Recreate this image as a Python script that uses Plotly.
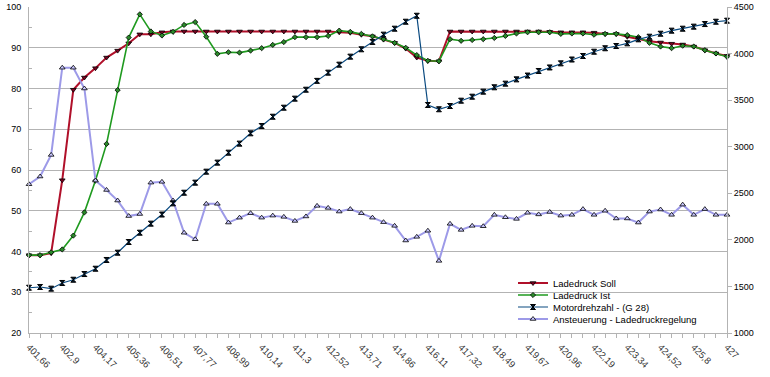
import plotly.graph_objects as go

tick_labels = ["401,66", "402,9", "404,17", "405,36", "406,51", "407,77", "408,99",
               "410,14", "411,3", "412,52", "413,71", "414,86", "416,11", "417,32",
               "418,49", "419,67", "420,96", "422,19", "423,34", "424,52", "425,8", "427"]

soll = [39.1, 39.1, 39.6, 57.5, 79.7, 82.7, 85.0, 87.6, 89.3, 91.1,
        93.3, 93.3, 93.8, 94.0, 94.0, 94.0, 94.0, 94.0, 94.0, 94.0,
        94.0, 94.0, 94.0, 94.0, 94.0, 94.0, 94.0, 94.0, 93.8, 93.7,
        93.2, 92.8, 92.0, 91.2, 89.8, 87.6, 86.8, 86.7, 94.0, 94.0,
        94.0, 94.0, 94.0, 94.0, 94.0, 94.0, 94.0, 93.9, 93.8, 93.8,
        93.8, 93.7, 93.4, 93.4, 92.7, 92.1, 91.6, 91.3, 91.0, 90.8,
        90.3, 89.4, 88.6, 88.0]

ist = [39.1, 39.1, 39.8, 40.5, 43.9, 49.6, 57.4, 66.4, 79.6, 92.5,
       98.2, 94.0, 93.0, 93.9, 95.6, 96.3, 92.7, 88.5, 88.9, 88.8,
       89.3, 89.9, 90.7, 91.4, 92.6, 92.6, 92.6, 92.9, 94.2, 93.9,
       93.4, 92.8, 92.1, 91.2, 90.0, 88.2, 86.8, 86.7, 92.1, 91.7,
       91.9, 92.1, 92.4, 92.9, 93.5, 93.8, 93.8, 93.8, 93.4, 93.5,
       93.5, 93.2, 93.4, 93.4, 93.1, 92.6, 91.2, 90.3, 89.9, 90.5,
       90.3, 89.4, 88.6, 87.8]

motor = [1486, 1494, 1476, 1537, 1572, 1633, 1690, 1784, 1862, 1977,
         2077, 2174, 2272, 2392, 2506, 2614, 2732, 2829, 2936, 3033,
         3144, 3222, 3322, 3419, 3516, 3612, 3707, 3795, 3881, 3967,
         4046, 4125, 4203, 4267, 4342, 4406, 3448, 3402, 3437, 3494,
         3537, 3591, 3638, 3677, 3723, 3764, 3813, 3851, 3895, 3936,
         3974, 4020, 4057, 4081, 4110, 4153, 4181, 4213, 4246, 4267,
         4289, 4317, 4342, 4353]

ansteuerung = [56.5, 58.4, 63.7, 85.1, 85.1, 80.0, 57.4, 55.1, 52.5, 48.7,
               49.2, 56.9, 57.1, 52.5, 44.6, 43.0, 51.7, 51.7, 47.1, 48.3,
               49.4, 48.3, 48.8, 48.5, 47.5, 48.6, 51.2, 50.7, 49.8, 50.4,
               49.4, 48.3, 47.2, 46.3, 42.7, 43.6, 45.1, 37.7, 46.8, 45.3,
               46.3, 46.2, 49.0, 48.4, 48.0, 49.5, 49.1, 49.7, 48.8, 49.0,
               50.4, 49.0, 50.0, 48.1, 48.1, 47.1, 49.8, 50.3, 49.0, 51.5,
               49.0, 50.4, 49.0, 49.0]

n = len(soll)
x = list(range(n))
label_step = 3
ticktext = []
for i in range(n):
    ticktext.append(tick_labels[i // label_step] if i % label_step == 0 else "")

FONT = "Liberation Sans"
fig = go.Figure()

fig.add_trace(go.Scatter(
    x=x, y=soll, name="Ladedruck Soll", mode="lines+markers", legend="legend",
    line=dict(color="#b0102a", width=2),
    marker=dict(symbol="triangle-down", size=5, color="#7e0021",
                line=dict(color="#000000", width=0.8)),
    cliponaxis=False))
fig.add_trace(go.Scatter(
    x=x, y=ist, name="Ladedruck Ist", mode="lines+markers", legend="legend2",
    line=dict(color="#1f9a1f", width=1.6),
    marker=dict(symbol="diamond", size=4, color="#2a8a2a",
                line=dict(color="#000000", width=0.8)),
    cliponaxis=False))
fig.add_trace(go.Scatter(
    x=x, y=motor, name="Motordrehzahl - (G 28)", mode="lines+markers", yaxis="y2",
    legend="legend3",
    line=dict(color="#0a4a80", width=1.2),
    marker=dict(symbol="hourglass", size=5, color="#001830",
                line=dict(color="#000000", width=1)),
    cliponaxis=False))
fig.add_trace(go.Scatter(
    x=x, y=ansteuerung, name="Ansteuerung - Ladedruckregelung", mode="lines+markers",
    legend="legend4",
    line=dict(color="#9d9ae8", width=2),
    marker=dict(symbol="triangle-up", size=5, color="#c8c6ff",
                line=dict(color="#000000", width=0.8)),
    cliponaxis=False))

# plot area geometry (pixels) used to place the four single-item legends
PL, PR, PT, PB = 29, 43, 7, 44
W, H = 770, 377
pw, ph = W - PL - PR, H - PT - PB
legend_rows = [283, 295, 307, 319]
legend_text_left = 553


def leg(row):
    return dict(x=(legend_text_left - 40 - PL) / pw, y=(H - PB - row) / ph,
                xanchor="left", yanchor="middle",
                bgcolor="rgba(0,0,0,0)", borderwidth=0,
                font=dict(family=FONT, size=9.5, color="#000000"),
                itemwidth=30)


fig.update_layout(
    template="none",
    width=W, height=H,
    margin=dict(l=PL, r=PR, t=PT, b=PB, pad=0, autoexpand=False),
    paper_bgcolor="white", plot_bgcolor="white",
    font=dict(family=FONT, size=9, color="#000000"),
    showlegend=True,
    legend=leg(legend_rows[0]),
    legend2=leg(legend_rows[1]),
    legend3=leg(legend_rows[2]),
    legend4=leg(legend_rows[3]),
    xaxis=dict(range=[0, n - 1], tickmode="array", tickvals=x, ticktext=ticktext,
               tickangle=45, ticks="outside", ticklen=4, tickcolor="#b3b3b3",
               showline=True, linecolor="#b3b3b3", linewidth=1, automargin=False,
               showgrid=False, zeroline=False,
               tickfont=dict(family=FONT, size=9.5, color="#333333")),
    yaxis=dict(range=[20, 100], dtick=10, ticks="", showline=True, automargin=False,
               linecolor="#b3b3b3", linewidth=1, gridcolor="#b3b3b3", gridwidth=1,
               zeroline=False, tickfont=dict(family=FONT, size=9),
               ticklabelstandoff=5,
               minor=dict(dtick=5, ticks="inside", ticklen=3, tickcolor="#b3b3b3",
                          showgrid=False)),
    yaxis2=dict(range=[1000, 4500], dtick=500, overlaying="y", side="right",
                ticks="outside", ticklen=4, tickcolor="#b3b3b3", showline=True,
                automargin=False,
                linecolor="#b3b3b3", linewidth=1, showgrid=False, zeroline=False,
                tickfont=dict(family=FONT, size=9)),
)

fig.write_html("out.html",
               config={"displayModeBar": False},
               post_script="document.body.style.margin='0';"
                           "document.body.style.overflow='hidden';")
